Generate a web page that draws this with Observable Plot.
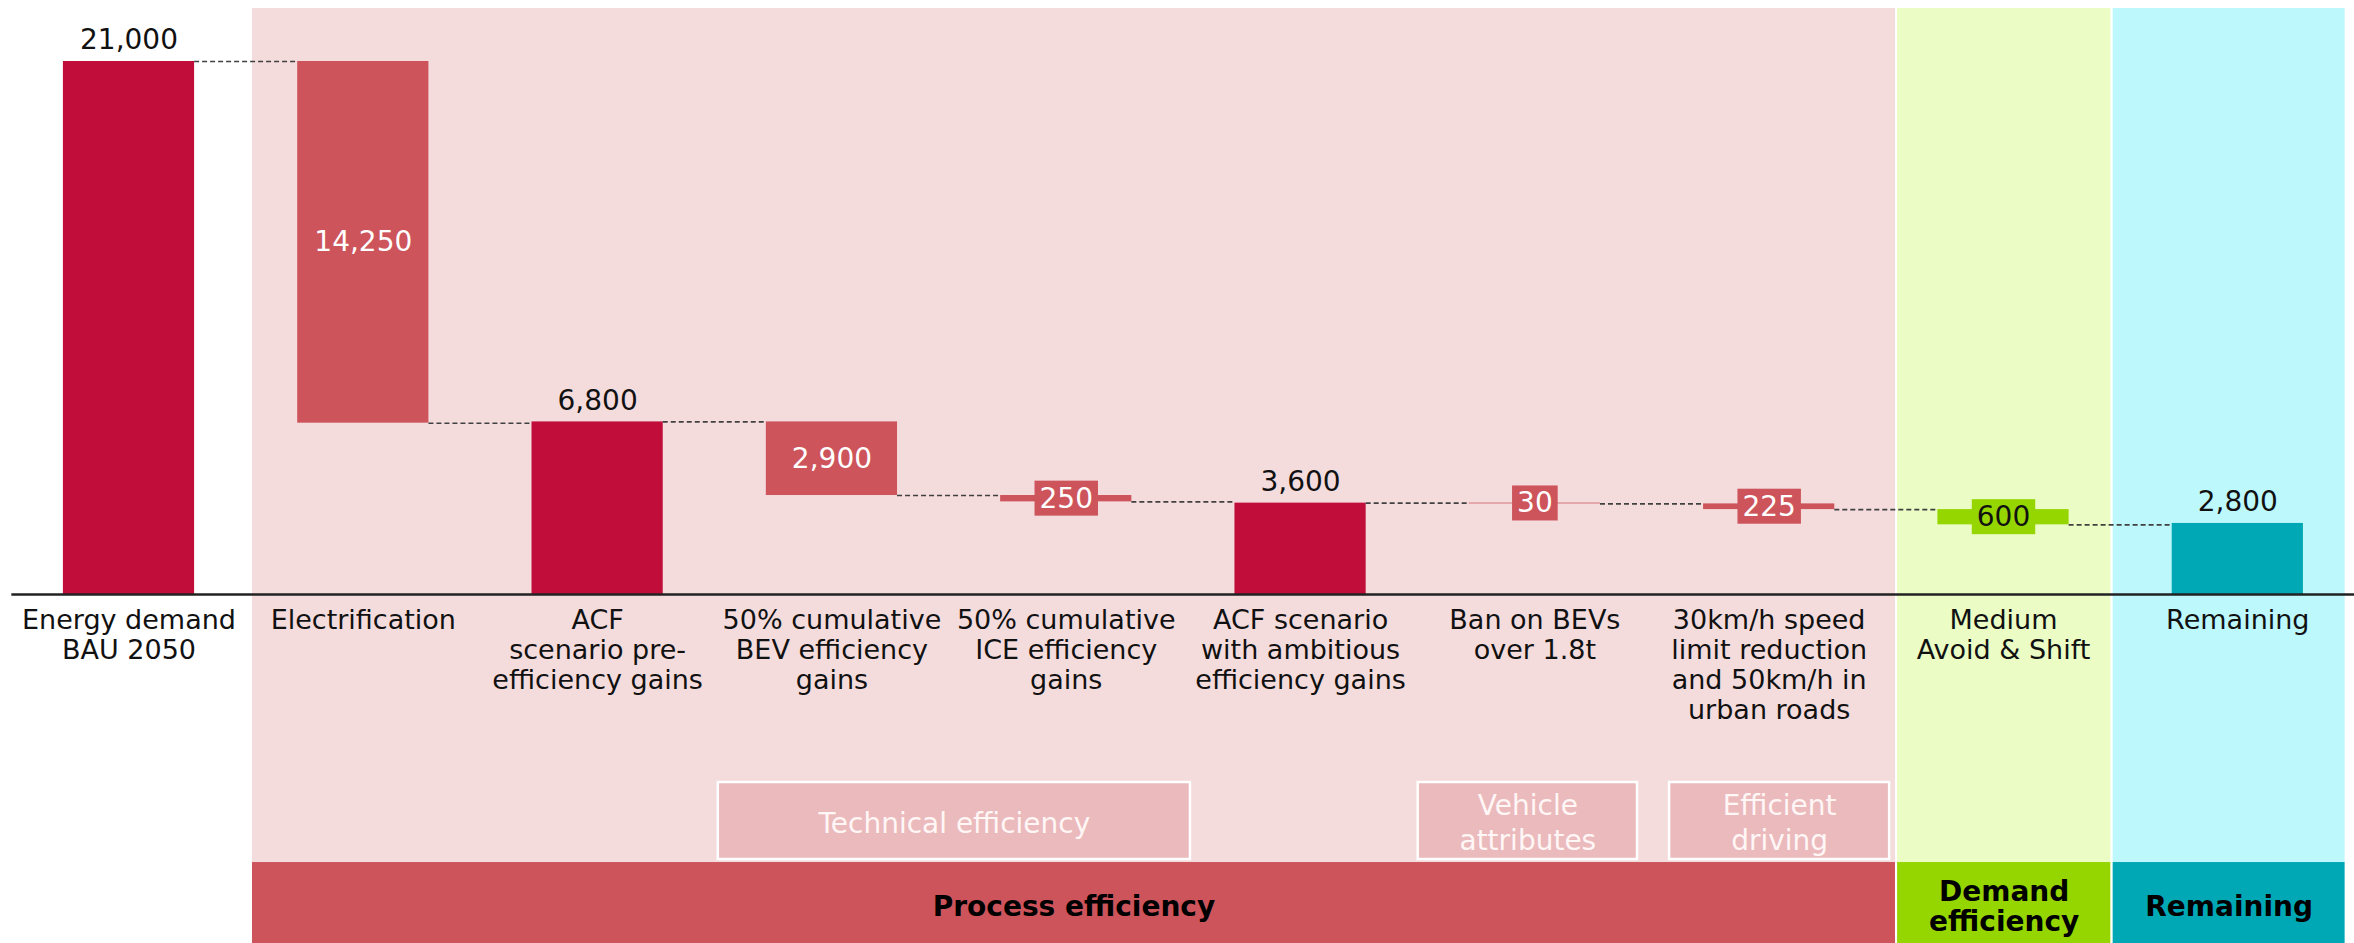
<!DOCTYPE html>
<html><head><meta charset="utf-8">
<script src="https://cdn.jsdelivr.net/npm/d3@7"></script>
<script src="https://cdn.jsdelivr.net/npm/@observablehq/plot@0.6"></script>
<style>
html,body{margin:0;padding:0;background:#fff;}
#chart svg{display:block;}
</style></head><body><div id="chart"></div>
<script>
// ---------- data ----------
const categories = [
  "Energy demand\nBAU 2050",
  "Electrification",
  "ACF\nscenario pre-\nefficiency gains",
  "50% cumulative\nBEV efficiency\ngains",
  "50% cumulative\nICE efficiency\ngains",
  "ACF scenario\nwith ambitious\nefficiency gains",
  "Ban on BEVs\nover 1.8t",
  "30km/h speed\nlimit reduction\nand 50km/h in\nurban roads",
  "Medium\nAvoid & Shift",
  "Remaining"
];
const kinds = ["total","decrease","total","decrease","decrease","total","decrease","decrease","decrease","total"];
const values = [21000, 14250, 6800, 2900, 250, 3600, 30, 225, 600, 2800];
const sections = ["base","process","process","process","process","process","process","process","demand","remaining"];
const groupNames = ["Process efficiency", "Demand\nefficiency", "Remaining"];
const subGroupNames = ["Technical efficiency", "Vehicle\nattributes", "Efficient\ndriving"];

// ---------- layout / style ----------
const COLORS = {total:"#C00D3A", process:"#CD545B", demand:"#95D600", remaining:"#00A7B5"};
const BG = {process:"#F4DCDD", demand:"#EBFDC5", remaining:"#BDF8FD"};
const HW = 0.28;                       // half bar width (category units)
const Y_MIN = -13750, Y_MAX = 23403;   // y domain so that 0 sits at the axis line
const Y_REGION_TOP = 23088, Y_BAND_TOP = -10560;
const Y_SUB1 = -7407, Y_SUB2 = -10441, Y_SUB_TEXT = -8954, Y_BAND_TEXT = -12274;
const groupSpans = [[0.527, 7.539], [7.548, 8.458], [8.468, 9.458]];
const groupKeys = ["process","demand","remaining"];
const subSpans = [[2.515, 4.530], [5.502, 6.438], [6.575, 7.514]];

const fmt = d3.format(",");
let level = 0;
const bars = values.map((v, i) => {
  const kind = kinds[i];
  let lo, hi;
  if (kind === "total") { lo = 0; hi = v; level = v; }
  else { hi = level; lo = level - v; level = lo; }
  const sec = sections[i];
  const color = sec === "demand" ? COLORS.demand : sec === "remaining" ? COLORS.remaining
              : kind === "total" ? COLORS.total : COLORS.process;
  return {i, label: categories[i], value: v, kind, sec, lo, hi, end: level, color, text: fmt(v)};
});
const connectors = bars.slice(0, -1).map((b, k) => ({from: b.i, to: bars[k + 1].i, y: b.end}));
const totals = bars.filter(d => d.kind === "total");
const inside = bars.filter(d => d.kind === "decrease" && d.value >= 1000);
const boxed = bars.filter(d => d.kind === "decrease" && d.value < 1000);
const regions = groupKeys.map((k, j) => ({x1: groupSpans[j][0], x2: groupSpans[j][1], fill: BG[k]}));
const bands = groupKeys.map((k, j) => ({x1: groupSpans[j][0], x2: groupSpans[j][1], fill: k === "process" ? COLORS.process : COLORS[k], name: groupNames[j]}));
const subs = subGroupNames.map((n, j) => ({x1: subSpans[j][0], x2: subSpans[j][1], name: n}));

const chart = Plot.plot({
  width: 2354, height: 943,
  marginTop: 0, marginBottom: 0, marginLeft: 0, marginRight: 0,
  x: {type: "linear", domain: [-0.5484, 9.498], axis: null},
  y: {domain: [Y_MIN, Y_MAX], axis: null},
  color: {type: "identity"},
  style: {fontFamily: "'DejaVu Sans', sans-serif", background: "white"},
  marks: [
    Plot.rect(regions, {x1: "x1", x2: "x2", y1: Y_BAND_TOP, y2: Y_REGION_TOP, fill: "fill"}),
    Plot.rect(subs, {x1: "x1", x2: "x2", y1: Y_SUB2, y2: Y_SUB1, fill: "#EBBABD", stroke: "white", strokeWidth: 2.5}),
    Plot.text(subs, {x: d => (d.x1 + d.x2) / 2, y: Y_SUB_TEXT, text: "name", fill: "#FFF6F6", fontSize: 28, lineHeight: 1.25}),
    Plot.rect(bands, {x1: "x1", x2: "x2", y1: Y_MIN, y2: Y_BAND_TOP, fill: "fill"}),
    Plot.text(bands, {x: d => (d.x1 + d.x2) / 2, y: Y_BAND_TEXT, text: "name", fill: "#000", fontSize: 28, fontWeight: "bold", lineHeight: 1.07}),
    Plot.text(bars, {x: "i", y: 0, text: "label", dy: 13, lineAnchor: "top", fontSize: 27, lineHeight: 1.11, fill: "#111"}),
    Plot.rect(bars, {x1: d => d.i - HW, x2: d => d.i + HW, y1: "lo", y2: "hi", fill: "color"}),
    Plot.ruleY(connectors, {y: "y", x1: d => d.from + HW, x2: d => d.to - HW, stroke: "#404040", strokeWidth: 1.6, strokeDasharray: "5,3"}),
    Plot.ruleY([0], {x1: -0.5, x2: 9.5, stroke: "#222", strokeWidth: 2.5}),
    Plot.text(totals, {x: "i", y: "hi", text: "text", dy: -12, lineAnchor: "bottom", fontSize: 28, fill: "#111"}),
    Plot.text(inside, {x: "i", y: d => (d.lo + d.hi) / 2, text: "text", fontSize: 28, fill: "white"}),
    Plot.text(boxed, {x: "i", y: d => (d.lo + d.hi) / 2, text: "text", fontSize: 28,
      fill: d => d.sec === "demand" ? "#111" : "white"})
  ]
});
document.getElementById("chart").append(chart);

// label backgrounds behind the small values, sized from the rendered text
const textGroups = chart.querySelectorAll('g[aria-label="text"]');
const g = textGroups[textGroups.length - 1];
if (g) {
  const texts = Array.from(g.querySelectorAll("text"));
  texts.forEach((t, k) => {
    const b = t.getBBox();
    const r = document.createElementNS("http://www.w3.org/2000/svg", "rect");
    r.setAttribute("x", b.x - 5);
    r.setAttribute("y", b.y - 1);
    r.setAttribute("width", b.width + 10);
    r.setAttribute("height", b.height + 2);
    r.setAttribute("fill", boxed[k].color);
    r.setAttribute("stroke", "none");
    if (t.getAttribute("transform")) r.setAttribute("transform", t.getAttribute("transform"));
    t.parentNode.insertBefore(r, t);
  });
}
</script>
</body></html>
